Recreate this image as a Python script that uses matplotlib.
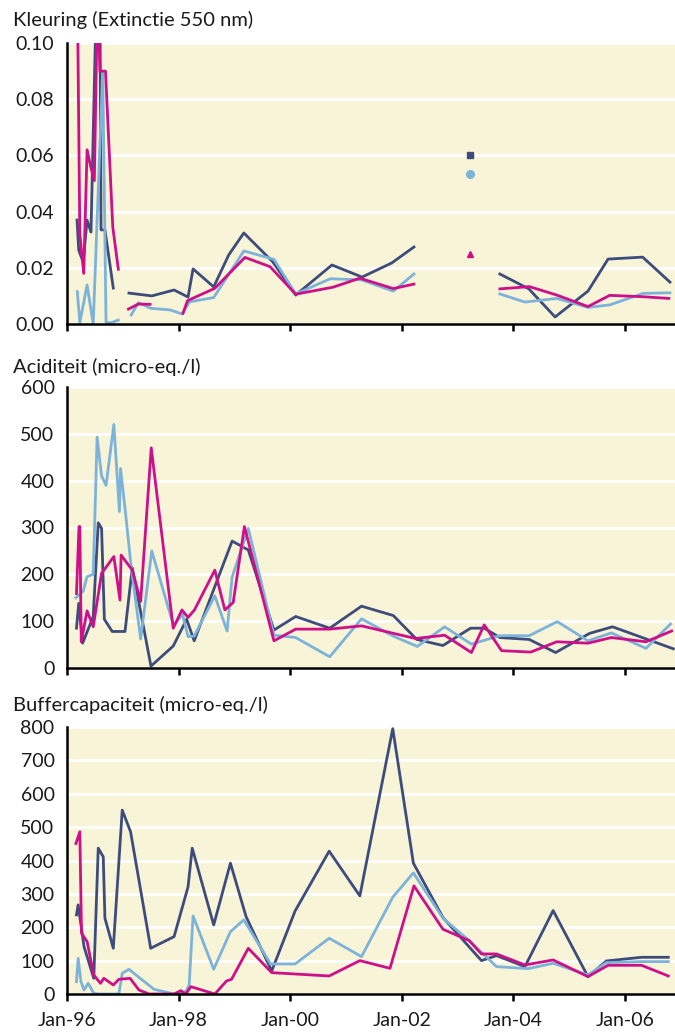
import numpy as np
import matplotlib.pyplot as plt

nan = np.nan

# colours of the three series
navy = '#3E4C7C'
lightblue = '#7DB3D8'
magenta = '#CF0F89'
bg = '#F8F4D8'

# ---- Kleuring (Extinctie 550 nm) ----
kl_navy_x = [1996.18, 1996.21, 1996.29, 1996.36, 1996.43, 1996.53, 1996.59, 1996.61, 1996.68, 1996.83, nan,
             1997.11, 1997.52, 1997.92, 1998.17, 1998.26, 1998.63, 1998.90, 1999.17, 1999.69, 2000.10,
             2000.75, 2001.29, 2001.82, 2002.22, nan, 2003.76, 2004.28, 2004.75, 2005.34, 2005.70, 2006.32, 2006.81]
kl_navy_y = [0.037, 0.0263, 0.022, 0.037, 0.0327, 0.12, 0.12, 0.0335, 0.0335, 0.0128, nan,
             0.011, 0.010, 0.0121, 0.0096, 0.0196, 0.0132, 0.0246, 0.0324, 0.0221, 0.0103,
             0.021, 0.0167, 0.0217, 0.0274, nan, 0.0178, 0.0125, 0.0025, 0.0117, 0.0231, 0.0238, 0.0149]

kl_blue_x = [1996.185, 1996.23, 1996.36, 1996.47, 1996.64, 1996.70, 1996.80, 1996.92, nan,
             1997.15, 1997.28, 1997.50, 1997.85, 1998.06, 1998.20, 1998.63, 1999.17, 1999.71, 2000.10,
             2000.72, 2001.28, 2001.85, 2002.22, nan, 2003.76, 2004.21, 2004.78, 2005.34, 2005.73, 2006.33, 2006.81]
kl_blue_y = [0.0115, 0.0005, 0.0139, 0.0, 0.090, 0.0005, 0.0005, 0.0014, nan,
             0.0032, 0.0076, 0.0056, 0.005, 0.0036, 0.0079, 0.0094, 0.026, 0.023, 0.0107,
             0.0161, 0.0157, 0.0117, 0.0178, nan, 0.0107, 0.0078, 0.0091, 0.0059, 0.0068, 0.0109, 0.0111]

kl_mag_x = [1996.185, 1996.23, 1996.30, 1996.36, 1996.425, 1996.49, 1996.55, 1996.59, 1996.69, 1996.82, 1996.92, nan,
            1997.10, 1997.28, 1997.49, nan, 1998.08, 1998.16, 1998.65, 1999.19, 1999.64, 2000.10,
            2000.77, 2001.25, 2001.85, 2002.22, nan, 2003.76, 2004.29, 2004.78, 2005.34, 2005.73, 2006.33, 2006.79]
kl_mag_y = [0.12, 0.032, 0.018, 0.062, 0.056, 0.051, 0.12, 0.09, 0.09, 0.0346, 0.0195, nan,
            0.0053, 0.0071, 0.007, nan, 0.0038, 0.0083, 0.0127, 0.0237, 0.0204, 0.0106,
            0.0131, 0.0163, 0.0126, 0.0142, nan, 0.0125, 0.0133, 0.0103, 0.0062, 0.0102, 0.0097, 0.0091]

# single measurements in 2003
kl_single_x = 2003.22
kl_single_navy = 0.060
kl_single_blue = 0.0534
kl_single_mag = 0.0249

# ---- Aciditeit (micro-eq./l) ----
ac_navy_x = [1996.17, 1996.21, 1996.28, 1996.47, 1996.56, 1996.62, 1996.67, 1996.81, 1997.04, 1997.17,
             1997.505, 1997.905, 1998.145, 1998.28, 1998.96, 1999.25, 1999.71, 2000.10, 2000.71, 2001.28,
             2001.85, 2002.27, 2002.74, 2003.235, 2003.48, 2003.76, 2004.285, 2004.76, 2005.37, 2005.78, 2006.87]
ac_navy_y = [85, 138, 53, 110, 310, 298, 104, 78, 78, 214,
             4, 47, 104, 58, 271, 252, 81, 110, 85, 132,
             112, 61, 48, 85, 85, 65, 61, 33, 74, 88, 41]

ac_blue_x = [1996.16, 1996.29, 1996.36, 1996.47, 1996.54, 1996.62, 1996.70, 1996.84, 1996.94, 1996.96,
             1997.05, 1997.14, 1997.32, 1997.52, 1997.91, 1998.07, 1998.17, 1998.28, 1998.65, 1998.87,
             1998.96, 1999.25, 1999.71, 2000.10, 2000.71, 2001.28, 2001.85, 2002.28, 2002.77, 2003.25,
             2003.76, 2004.285, 2004.79, 2005.34, 2005.76, 2006.38, 2006.82]
ac_blue_y = [150, 164, 195, 200, 493, 410, 390, 520, 334, 426,
             330, 227, 62, 250, 90, 115, 67, 68, 154, 79,
             194, 298, 70, 65, 24, 105, 68, 46, 88, 51,
             69, 69, 99, 58, 75, 42, 94]

ac_mag_x = [1996.17, 1996.215, 1996.23, 1996.256, 1996.36, 1996.47, 1996.62, 1996.84, 1996.95, 1996.97,
            1997.17, 1997.32, 1997.51, 1997.905, 1998.06, 1998.17, 1998.285, 1998.65, 1998.83, 1998.98,
            1999.18, 1999.25, 1999.71, 2000.10, 2000.71, 2001.28, 2001.85, 2002.25, 2002.77, 2003.25,
            2003.48, 2003.79, 2004.315, 2004.78, 2005.34, 2005.76, 2006.38, 2006.84]
ac_mag_y = [159, 302, 302, 56, 122, 88, 202, 238, 145, 241,
            209, 142, 470, 85, 124, 108, 124, 209, 124, 140,
            302, 270, 58, 83, 83, 90, 74, 63, 70, 33,
            92, 37, 34, 56, 53, 65, 56, 79]

# ---- Buffercapaciteit (micro-eq./l) ----
bc_navy_x = [1996.17, 1996.20, 1996.305, 1996.48, 1996.56, 1996.65, 1996.68, 1996.83, 1996.99, 1997.14,
             1997.50, 1997.92, 1998.17, 1998.245, 1998.63, 1998.93, 1999.21, 1999.67, 2000.09, 2000.70,
             2001.25, 2001.84, 2002.21, 2002.74, 2003.43, 2003.70, 2004.21, 2004.715, 2005.34, 2005.67,
             2006.30, 2006.78]
bc_navy_y = [237, 267, 142, 47, 437, 411, 227, 137, 551, 486,
             137, 172, 321, 437, 207, 392, 232, 69, 249, 428,
             294, 795, 392, 229, 100, 115, 82, 250, 52, 99,
             110, 110]

bc_blue_x = [1996.17, 1996.20, 1996.25, 1996.305, 1996.38, 1996.48, 1996.57, 1996.93, 1996.99, 1997.11,
             1997.56, 1997.92, 1998.13, 1998.19, 1998.26, 1998.63, 1998.93, 1999.17, 1999.65, 2000.09,
             2000.70, 2001.28, 2001.84, 2002.21, 2002.74, 2003.21, 2003.70, 2004.27, 2004.715, 2005.34,
             2005.67, 2006.30, 2006.78]
bc_blue_y = [37, 107, 37, 12, 32, 2, 0, 0, 62, 74,
             14, 0, 7, 27, 234, 74, 187, 222, 90, 90,
             167, 112, 290, 363, 227, 160, 82, 76, 92, 57,
             94, 97, 97]

bc_mag_x = [1996.16, 1996.23, 1996.26, 1996.36, 1996.48, 1996.60, 1996.66, 1996.83, 1996.93, 1997.13,
            1997.29, 1997.47, 1997.92, 1998.04, 1998.13, 1998.22, 1998.65, 1998.86, 1998.95, 1999.25,
            1999.67, 2000.70, 2001.25, 2001.79, 2002.22, 2002.74, 2003.21, 2003.43, 2003.70, 2004.21,
            2004.715, 2005.34, 2005.70, 2006.30, 2006.78]
bc_mag_y = [451, 486, 182, 157, 57, 32, 47, 27, 44, 47,
            12, 0, 0, 10, 0, 22, 0, 39, 44, 137,
            64, 54, 100, 77, 324, 194, 160, 120, 120, 87,
            102, 52, 86, 86, 54]

xticks = [1996, 1998, 2000, 2002, 2004, 2006]
xtick_labels = ['Jan-96', 'Jan-98', 'Jan-00', 'Jan-02', 'Jan-04', 'Jan-06']

titles = ['Kleuring (Extinctie 550 nm)', 'Aciditeit (micro-eq./l)', 'Buffercapaciteit (micro-eq./l)']

plt.rcParams['font.family'] = ['Lato', 'DejaVu Sans']
plt.rcParams['font.size'] = 13

fig = plt.figure(figsize=(6.75, 10.33), dpi=100)
W, H = 675.0, 1033.0

# axes boxes in pixels: left, top, bottom
boxes = [(67, 43, 324), (67, 387, 668), (67, 727, 994)]
title_y = [20, 367, 705]
axes = []
for (l, t, b), ty, title in zip(boxes, title_y, titles):
    ax = fig.add_axes([l / W, 1 - b / H, (W - l) / W, (b - t) / H])
    ax.set_facecolor(bg)
    fig.text(13 / W, 1 - ty / H, title, ha='left', va='center', fontsize=14.5, color='#1a1a1a')
    axes.append(ax)

lw = 2.0
ax1, ax2, ax3 = axes

ax1.plot(kl_navy_x, kl_navy_y, color=navy, lw=lw)
ax1.plot(kl_blue_x, kl_blue_y, color=lightblue, lw=lw)
ax1.plot(kl_mag_x, kl_mag_y, color=magenta, lw=lw)
ax1.plot([kl_single_x], [kl_single_navy], 's', color=navy, ms=5)
ax1.plot([kl_single_x], [kl_single_blue], 'o', color=lightblue, ms=5.5)
ax1.plot([kl_single_x], [kl_single_mag], '^', color=magenta, ms=5)
ax1.set_ylim(0, 0.10)
ax1.set_yticks(np.arange(0, 0.101, 0.02))
ax1.set_yticklabels(['%.2f' % v for v in np.arange(0, 0.101, 0.02)])

ax2.plot(ac_navy_x, ac_navy_y, color=navy, lw=lw)
ax2.plot(ac_blue_x, ac_blue_y, color=lightblue, lw=lw)
ax2.plot(ac_mag_x, ac_mag_y, color=magenta, lw=lw)
ax2.set_ylim(0, 600)
ax2.set_yticks(range(0, 601, 100))

ax3.plot(bc_navy_x, bc_navy_y, color=navy, lw=lw)
ax3.plot(bc_blue_x, bc_blue_y, color=lightblue, lw=lw)
ax3.plot(bc_mag_x, bc_mag_y, color=magenta, lw=lw)
ax3.set_ylim(0, 800)
ax3.set_yticks(range(0, 801, 100))

for i, ax in enumerate(axes):
    ax.set_xlim(1996.0, 2006.9)
    ax.set_xticks(xticks)
    if i == 2:
        ax.set_xticklabels(xtick_labels)
    else:
        ax.set_xticklabels([])
    ax.grid(axis='y', color='white', lw=2.0)
    ax.set_axisbelow(True)
    for s in ['top', 'right']:
        ax.spines[s].set_visible(False)
    for s in ['left', 'bottom']:
        ax.spines[s].set_linewidth(1.8)
        ax.spines[s].set_color('black')
    ax.tick_params(axis='y', length=0, pad=9, labelsize=14, labelcolor='#1a1a1a')
    ax.tick_params(axis='x', length=5, width=1.8, direction='out', pad=8, labelsize=14, labelcolor='#1a1a1a')

plt.savefig('out.png', dpi=100)
